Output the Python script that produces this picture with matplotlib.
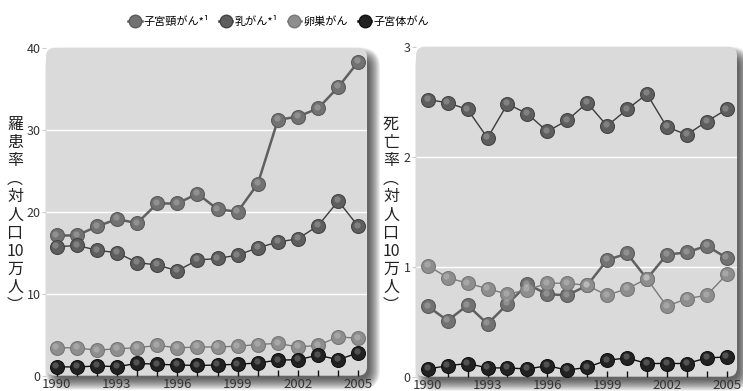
import matplotlib
matplotlib.use("Agg")
import matplotlib.pyplot as plt
from matplotlib.patches import FancyBboxPatch
from matplotlib.lines import Line2D
from matplotlib.transforms import offset_copy

plt.rcParams['font.family'] = ['Noto Sans CJK JP', 'DejaVu Sans']

years = list(range(1990, 2006))
xtick_years = [1990, 1993, 1996, 1999, 2002, 2005]

series_names = ["子宮頸がん*¹", "乳がん*¹", "卵巣がん", "子宮体がん"]

# incidence (per 100k)
inc_cervix = [17.1, 17.1, 18.2, 19.1, 18.6, 21.0, 21.0, 22.2, 20.3, 20.0, 23.4, 31.2, 31.6, 32.6, 35.2, 38.3]
inc_breast = [15.7, 15.9, 15.3, 15.0, 13.8, 13.5, 12.8, 14.1, 14.3, 14.7, 15.6, 16.3, 16.7, 18.3, 21.3, 18.2]
inc_ovary = [3.4, 3.4, 3.1, 3.3, 3.4, 3.7, 3.4, 3.5, 3.5, 3.6, 3.8, 3.95, 3.5, 3.7, 4.75, 4.55]
inc_uterus = [1.1, 1.05, 1.2, 1.1, 1.5, 1.4, 1.3, 1.25, 1.3, 1.4, 1.55, 1.9, 1.95, 2.5, 1.95, 2.8]

# mortality (per 100k)
mor_cervix = [0.64, 0.51, 0.65, 0.48, 0.66, 0.84, 0.75, 0.74, 0.83, 1.06, 1.12, 0.89, 1.11, 1.13, 1.19, 1.08]
mor_breast = [2.52, 2.49, 2.43, 2.17, 2.48, 2.39, 2.23, 2.33, 2.49, 2.28, 2.43, 2.57, 2.27, 2.20, 2.32, 2.43]
mor_ovary = [1.01, 0.90, 0.85, 0.80, 0.75, 0.79, 0.85, 0.85, 0.83, 0.74, 0.80, 0.89, 0.64, 0.71, 0.74, 0.93]
mor_uterus = [0.07, 0.10, 0.12, 0.08, 0.08, 0.07, 0.10, 0.06, 0.085, 0.15, 0.17, 0.12, 0.12, 0.12, 0.17, 0.18]

styles = [
    dict(mfc="#727272", mec="#5a5a5a", lc="#606060", lw=1.8),   # cervix
    dict(mfc="#5e5e5e", mec="#444444", lc="#3c3c3c", lw=1.0),   # breast
    dict(mfc="#8e8e8e", mec="#777777", lc="#7a7a7a", lw=1.0),   # ovary
    dict(mfc="#222222", mec="#111111", lc="#111111", lw=1.0),   # uterus
]

W, H = 743, 391
fig = plt.figure(figsize=(W / 100, H / 100), dpi=100)
fig.patch.set_facecolor("white")


def px_rect(x0, y0, x1, y1):
    # pixel coords (top-left origin) -> figure fraction [l, b, w, h]
    return [x0 / W, (H - y1) / H, (x1 - x0) / W, (y1 - y0) / H]


def rounded(x0, y0, x1, y1, r, **kw):
    l, b, w, h = px_rect(x0, y0, x1, y1)
    p = FancyBboxPatch((l, b), w, h, boxstyle=f"round,pad=0,rounding_size={r / W}",
                       transform=fig.transFigure, mutation_aspect=W / H, **kw)
    fig.patches.append(p)


def panel_bg(x0, y0, x1, y1):
    r = 9
    dx, dy = 6, 7
    for e in range(0, 12):
        rounded(x0 + dx - e + 4, y0 + dy - e + 4, x1 + dx + e - 4, y1 + dy + e - 4, r + e,
                facecolor="black", edgecolor="none", alpha=0.07, zorder=-20)
    rounded(x0, y0, x1, y1, r, facecolor="#dadada", edgecolor="none", zorder=-5)


def draw_panel(rect_px, xlim, ylim, yticks, data, ylabel, label_x):
    x0, y0, x1, y1 = rect_px
    panel_bg(x0, y0, x1, y1)
    ax = fig.add_axes(px_rect(x0, y0, x1, y1))
    ax.patch.set_visible(False)
    for s in ax.spines.values():
        s.set_visible(False)
    ax.set_xlim(*xlim)
    ax.set_ylim(*ylim)
    for yv in yticks[1:-1]:
        ax.axhline(yv, color="white", lw=1.0, zorder=1)
    for vals, st in zip(data, styles):
        ax.plot(years, vals, color=st["lc"], lw=st["lw"], zorder=2)
        ax.plot(years, vals, ls="none", marker="o", ms=10, mfc=st["mfc"], mec=st["mec"],
                mew=0.8, zorder=3)
        hl = offset_copy(ax.transData, fig=fig, x=-1.2, y=1.6, units="dots")
        ax.plot(years, vals, ls="none", marker="o", ms=4.5, mfc="white", mec="none",
                alpha=0.22, transform=hl, zorder=4)
    ax.set_xticks(years, minor=True)
    ax.set_xticks(xtick_years)
    ax.set_xticklabels([str(y) for y in xtick_years])
    ax.tick_params(axis="x", which="both", direction="in", length=4, width=1.0,
                   color="#111111", pad=1.5, labelsize=9.5, labelcolor="#333333")
    ax.set_yticks(yticks)
    ax.set_yticklabels([str(v) for v in yticks])
    ax.tick_params(axis="y", length=3, width=0.8, color="#cccccc", pad=1,
                   labelsize=9, labelcolor="#333333")
    fig.text(label_x / W, 1 - 215 / H, ylabel, ha="center", va="center",
             fontsize=11.5, linespacing=1.08, color="#222222")
    return ax


lab_inc = "\n".join(["羅", "患", "率", "︵", "対", "人", "口", "10", "万", "人", "︶"])
lab_mor = "\n".join(["死", "亡", "率", "︵", "対", "人", "口", "10", "万", "人", "︶"])

draw_panel((46, 47.7, 367, 375.7), (1989.47, 2005.43), (0, 40), [0, 10, 20, 30, 40],
           [inc_cervix, inc_breast, inc_ovary, inc_uterus], lab_inc, 15)
draw_panel((416, 46.7, 737, 376.7), (1989.41, 2005.52), (0, 3), [0, 1, 2, 3],
           [mor_cervix, mor_breast, mor_ovary, mor_uterus], lab_mor, 391)

handles = [Line2D([0], [0], color=st["lc"], lw=1.8, marker="o", ms=9, mfc=st["mfc"],
                  mec=st["mec"]) for st in styles]
fig.legend(handles, series_names, loc="center", bbox_to_anchor=(0.375, 1 - 21 / H), ncol=4,
           frameon=False, fontsize=8, handlelength=1.2, handletextpad=0.2,
           columnspacing=0.9, borderaxespad=0)

fig.savefig("out.png", dpi=100, facecolor="white")
